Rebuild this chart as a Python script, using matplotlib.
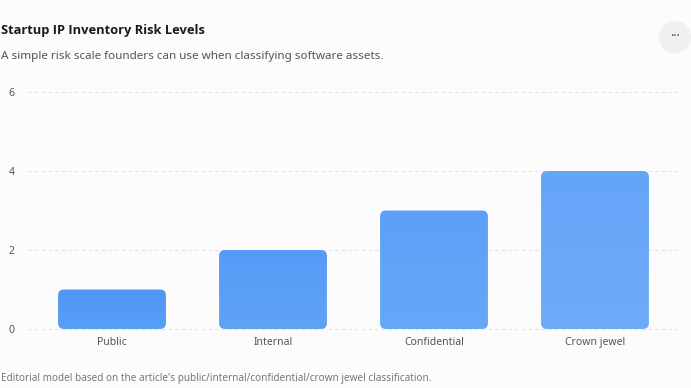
import matplotlib
matplotlib.use("Agg")
import matplotlib.pyplot as plt
import numpy as np
from matplotlib.patches import FancyBboxPatch, Ellipse
from matplotlib.colors import LinearSegmentedColormap, to_rgb

categories = ["Public", "Internal", "Confidential", "Crown jewel"]
values = [1, 2, 3, 4]
yticks = [0, 2, 4, 6]
bar_top_colors = ["#4f96f5", "#569bf6", "#5da0f7", "#65a5f8"]
bar_bottom_colors = ["#5a9ff6", "#5fa3f7", "#66a7f8", "#6dabf9"]

title = "Startup IP Inventory Risk Levels"
subtitle = "A simple risk scale founders can use when classifying software assets."
footer = "Editorial model based on the article's public/internal/confidential/crown jewel classification."

plt.rcParams['font.family'] = ['Noto Sans', 'DejaVu Sans']
W, H = 691, 388
fig = plt.figure(figsize=(W/100, H/100), dpi=100)
bg = "#fcfcfc"
fig.patch.set_facecolor(bg)

left_px, right_px = 31.5, 675.5
y0_px, y6_px = 329, 92
ax = fig.add_axes([left_px/W, 1 - y0_px/H, (right_px-left_px)/W, (y0_px-y6_px)/H])
ax.set_facecolor(bg)
ax.set_xlim(-0.5, len(categories)-0.5)
ax.set_ylim(0, 6)

for s in ax.spines.values():
    s.set_visible(False)

for yv in yticks:
    ax.plot([-0.52, len(categories)-0.48], [yv, yv], color="#e3e3e3", lw=0.8,
            ls=(0, (3, 3)), zorder=0, clip_on=False)

ax.set_yticks(yticks)
ax.set_yticklabels([str(v) for v in yticks])
ax.set_xticks(range(len(categories)))
ax.set_xticklabels(categories)
ax.tick_params(axis='both', length=0, labelsize=7.5, labelcolor="#555555")
ax.tick_params(axis='y', pad=12)
ax.tick_params(axis='x', pad=5.5)

bw = 0.67
px_per_x = (right_px-left_px)/len(categories)
px_per_y = (y0_px-y6_px)/6
aspect = px_per_x/px_per_y
r = 6/px_per_x
for i, v in enumerate(values):
    patch = FancyBboxPatch((i-bw/2, 0), bw, v,
                           boxstyle=f"round,pad=0,rounding_size={r}",
                           mutation_aspect=aspect, facecolor="none",
                           edgecolor="none", zorder=2)
    ax.add_patch(patch)
    cmap = LinearSegmentedColormap.from_list("g", [to_rgb(bar_bottom_colors[i]), to_rgb(bar_top_colors[i])])
    grad = np.linspace(0, 1, 100).reshape(-1, 1)
    im = ax.imshow(grad, cmap=cmap, aspect='auto', origin='lower',
                   extent=(i-bw/2, i+bw/2, 0, v), zorder=2)
    im.set_clip_path(patch)
ax.set_xlim(-0.5, len(categories)-0.5)
ax.set_ylim(0, 6)

fig.text(1/W, 1-34/H, title, fontsize=9.3, fontweight='bold', color="#1a1a1a",
         va='baseline', family=['Open Sans', 'DejaVu Sans'])
fig.text(1/W, 1-59/H, subtitle, fontsize=8.4, color="#555555", va='baseline')
fig.text(1/W, 1-381/H, footer, fontsize=7.2, color="#777777", va='baseline')

circ = Ellipse((675/W, 1-37/H), 32/W, 32/H, transform=fig.transFigure,
               facecolor="#f0f0f0", edgecolor="none")
fig.patches.append(circ)
fig.text(675/W, 1-37/H, "···", fontsize=9, fontweight='bold', color="#444444",
         ha='center', va='center')

fig.savefig("out.png", dpi=100, facecolor=bg)
